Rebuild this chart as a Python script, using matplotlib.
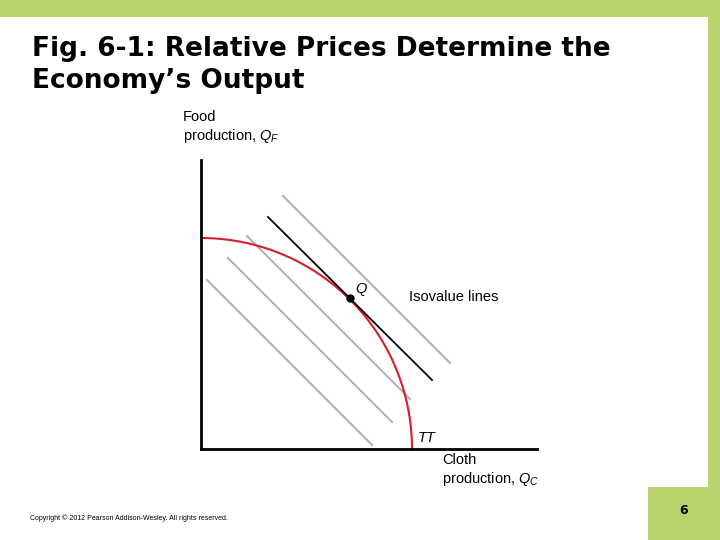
import numpy as np
import matplotlib
matplotlib.use("Agg")
import matplotlib.pyplot as plt
from matplotlib.patches import Rectangle

# Schematic data (chart units, origin at the axes corner)
TT_RADIUS = 211
Q_POINT = (149, 151)
TANGENT_X = [67, 231]
TANGENT_Y = [232, 69]
ISO_SUMS = [175, 218, 259, 335]        # x + y = const for grey isovalue lines
ISO_X_START = [6, 27, 46, 82]
ISO_X_END = [171, 191, 209, 249]

GREEN = "#b8d46e"
SANS = "Liberation Sans"

fig = plt.figure(figsize=(7.2, 5.4), dpi=100)
bg = fig.add_axes([0, 0, 1, 1])
bg.set_xlim(0, 720)
bg.set_ylim(540, 0)
bg.axis("off")
bg.add_patch(Rectangle((0, 0), 720, 17, color=GREEN, lw=0))
bg.add_patch(Rectangle((708, 0), 12, 540, color=GREEN, lw=0))
bg.add_patch(Rectangle((648, 487), 72, 53, color=GREEN, lw=0))
bg.text(32, 36, "Fig. 6-1: Relative Prices Determine the\nEconomy’s Output",
        fontsize=19, fontweight="bold", va="top", ha="left", linespacing=1.3)
bg.text(30, 518, "Copyright © 2012 Pearson Addison-Wesley. All rights reserved.",
        fontsize=5, va="center", family=SANS)
bg.text(684, 511, "6", fontsize=9, fontweight="bold", ha="center", va="center")

ax = fig.add_axes([201 / 720, 91 / 540, 336 / 720, 289 / 540])
ax.set_xlim(0, 336)
ax.set_ylim(0, 289)
ax.set_xticks([])
ax.set_yticks([])
for s in ["top", "right"]:
    ax.spines[s].set_visible(False)
for s in ["left", "bottom"]:
    ax.spines[s].set_linewidth(2)
ax.patch.set_alpha(0)

for c, x0, x1 in zip(ISO_SUMS, ISO_X_START, ISO_X_END):
    ax.plot([x0, x1], [c - x0, c - x1], color="#b3b3b3", lw=1.5)

t = np.linspace(0, np.pi / 2, 200)
ax.plot(TT_RADIUS * np.sin(t), TT_RADIUS * np.cos(t), color="#d81e2a", lw=1.5)
ax.plot(TANGENT_X, TANGENT_Y, color="black", lw=1.3)
ax.plot(*Q_POINT, "o", color="black", ms=5)

plt.rcParams["mathtext.fontset"] = "custom"
plt.rcParams["mathtext.it"] = "Liberation Sans:italic"
plt.rcParams["mathtext.rm"] = "Liberation Sans"
bg.text(355, 293, "Q", fontsize=10.5, style="italic", family=SANS)
bg.text(409, 297, "Isovalue lines", fontsize=10.5, va="center", family=SANS)
bg.text(418, 438, "TT", fontsize=10.5, style="italic", va="center", family=SANS)
bg.text(183, 145, "Food\nproduction, $Q_F$", fontsize=10.5, va="bottom", family=SANS)
bg.text(442, 488, "Cloth\nproduction, $Q_C$", fontsize=10.5, va="bottom", family=SANS)

fig.savefig("out.png", dpi=100)
